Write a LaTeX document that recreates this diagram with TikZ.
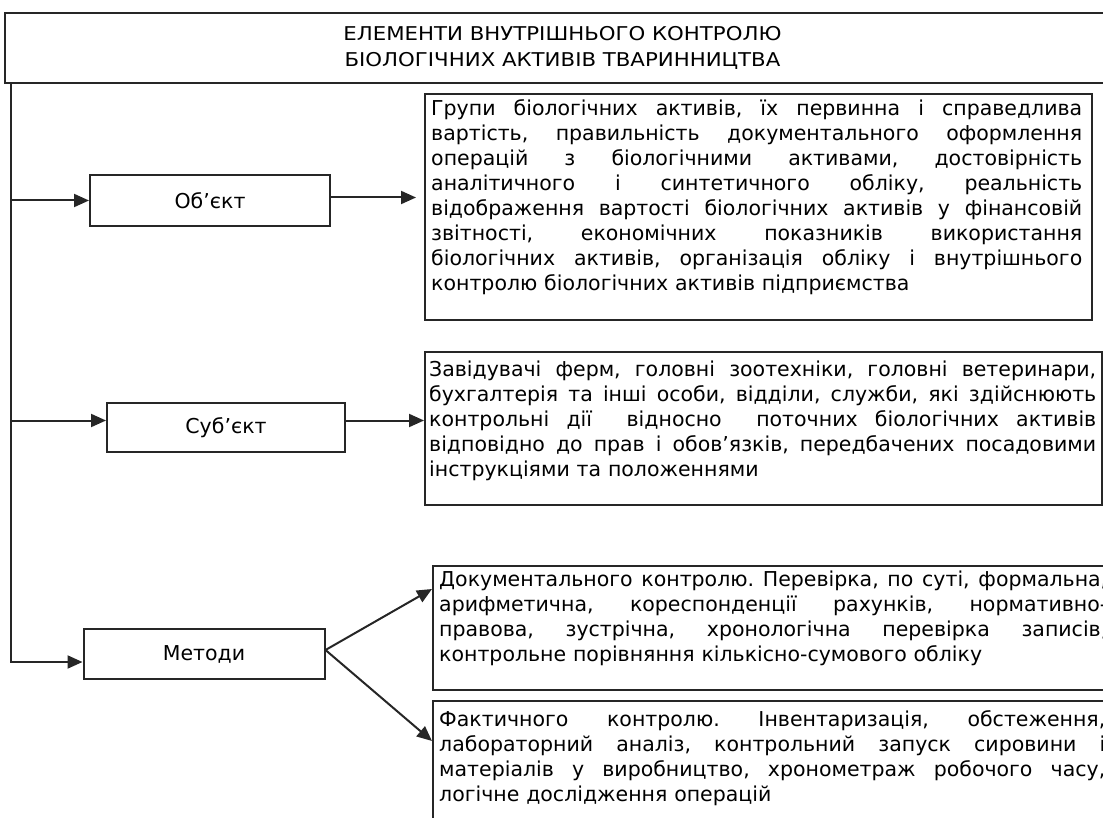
\documentclass[tikz,border=0pt]{standalone}
\usepackage{fontspec}
\setmainfont{DejaVu Sans}
\newfontfamily\headfont[FakeStretch=1.12]{DejaVu Sans}
\usetikzlibrary{arrows.meta}

% width of the current text block
\newlength\blockw
% one justified line of a text block: its word spaces share the slack evenly
\newcommand\jl[1]{\hbox to\blockw{\frenchspacing
  \spaceskip=0.318em plus 1fil\relax\xspaceskip=\spaceskip\strut #1}}
% last (ragged) line of a text block
\newcommand\lastline[1]{\hbox{\strut #1}}

\tikzset{
  boxframe/.style={draw=black!85, line width=2pt, rectangle, inner sep=0pt},
  elembox/.style={boxframe, font=\fontsize{20.5}{25}\selectfont},
  bodytext/.style={anchor=north west, inner sep=0pt, text width=#1,
    align=left, font=\fontsize{20.5}{25}\selectfont\setlength\blockw{#1}},
  arr/.style={draw=black!85, line width=2pt,
    -{Triangle[length=15pt,width=13pt]}}
}

\begin{document}
\begin{tikzpicture}[x=1pt,y=-1pt]
\useasboundingbox (0,0) rectangle (1103,818);
\clip (0,0) rectangle (1103,818);

% title block
\node[boxframe, minimum width=1115pt, minimum height=70pt, align=center,
      font=\headfont\fontsize{19}{26}\selectfont] (head) at (562.5,48)
  {ЕЛЕМЕНТИ ВНУТРІШНЬОГО КОНТРОЛЮ\\БІОЛОГІЧНИХ АКТИВІВ ТВАРИННИЦТВА};

% left-hand elements
\node[elembox, minimum width=240pt, minimum height=51pt] (obj)  at (210,200.5) {Об’єкт};
\node[elembox, minimum width=238pt, minimum height=49pt] (subj) at (226,427.5) {Суб’єкт};
\node[elembox, minimum width=241pt, minimum height=50pt] (meth) at (204,654)   {Методи};

% description frames
\node[boxframe, minimum width=667pt, minimum height=226pt] (objbox)  at (758.5,207)   {};
\node[boxframe, minimum width=677pt, minimum height=153pt] (subjbox) at (763.5,428.5) {};
\node[boxframe, minimum width=683pt, minimum height=124pt] (docbox)  at (774.5,628)   {};
\node[boxframe, minimum width=683pt, minimum height=139pt] (factbox) at (774.5,770.5) {};

% description texts
\node[bodytext=651pt] (objtext) at ([shift={(7,5)}]objbox.north west) {%
\jl{Групи біологічних активів, їх первинна і справедлива}
\jl{вартість, правильність документального оформлення}
\jl{операцій з біологічними активами, достовірність}
\jl{аналітичного і синтетичного обліку, реальність}
\jl{відображення вартості біологічних активів у фінансовій}
\jl{звітності, економічних показників використання}
\jl{біологічних активів, організація обліку і внутрішнього}
\lastline{контролю біологічних активів підприємства}};

\node[bodytext=667pt] (subjtext) at ([shift={(5,8)}]subjbox.north west) {%
\jl{Завідувачі ферм, головні зоотехніки, головні ветеринари,}
\jl{бухгалтерія та інші особи, відділи, служби, які здійснюють}
\jl{контрольні дії \ відносно \ поточних біологічних активів}
\jl{відповідно до прав і обов’язків, передбачених посадовими}
\lastline{інструкціями та положеннями}};

\node[bodytext=668pt] (doctext) at ([shift={(7,4)}]docbox.north west) {%
\jl{Документального контролю. Перевірка, по суті, формальна,}
\jl{арифметична, кореспонденції рахунків, нормативно-}
\jl{правова, зустрічна, хронологічна перевірка записів,}
\lastline{контрольне порівняння кількісно-сумового обліку}};

\node[bodytext=666pt] (facttext) at ([shift={(7,9)}]factbox.north west) {%
\jl{Фактичного контролю. Інвентаризація, обстеження,}
\jl{лабораторний аналіз, контрольний запуск сировини і}
\jl{матеріалів у виробництво, хронометраж робочого часу,}
\lastline{логічне дослідження операцій}};

% spine and connectors
\coordinate (spine) at (11,83);
\draw[arr] (spine) |- ([yshift=-8pt]meth.west);
\draw[arr] (spine |- obj.west) -- (obj.west);
\draw[arr] ([yshift=7pt]spine |- subj.west) -- ([yshift=7pt]subj.west);

\draw[arr, shorten >=8pt] ([yshift=3pt]obj.east) -- ([yshift=3pt]obj.east -| objbox.west);
\draw[arr] ([yshift=7pt]subj.east) -- ([yshift=7pt]subj.east -| subjbox.west);

\draw[arr] ([yshift=4pt]meth.east) -- ([yshift=-24pt]docbox.north west);
\draw[arr] ([yshift=4pt]meth.east) -- ([yshift=-41pt]factbox.north west);
\end{tikzpicture}
\end{document}
